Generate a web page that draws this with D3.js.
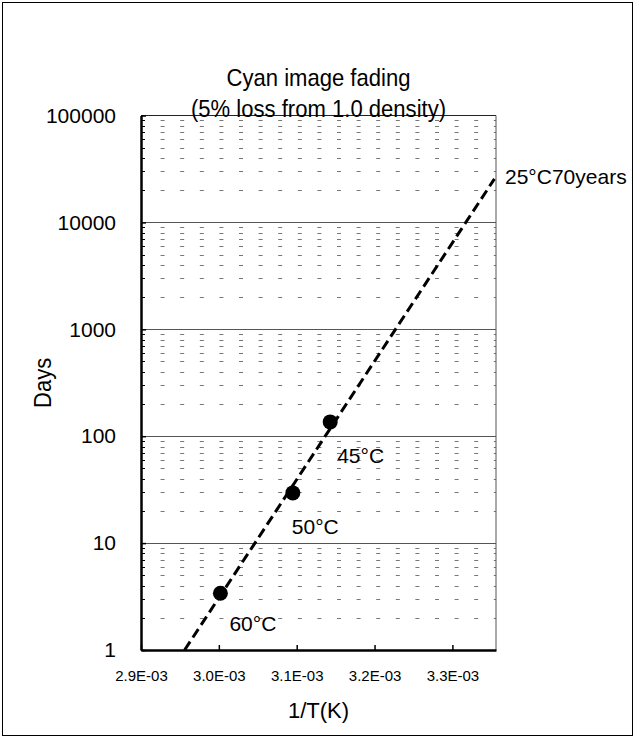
<!DOCTYPE html>
<html>
<head>
<meta charset="utf-8">
<script src="https://cdn.jsdelivr.net/npm/d3@7"></script>
<style>
  html, body { margin: 0; padding: 0; background: #fff; }
  svg { display: block; font-family: "Liberation Sans", Arial, sans-serif; }
</style>
</head>
<body>
<svg id="chart" width="640" height="738"></svg>
<script>
// ---- data ----
const pointLabels = ["45°C", "50°C", "60°C"];
const pointX = [3.143e-3, 3.095e-3, 3.002e-3];   // 1/T (K)
const pointY = [136, 29.5, 3.4];                 // days
const fitX = [2.956e-3, 3.354e-3];
const fitY = [1, 25550];
const fitLabel = "25°C70years";
const xTicks = [2.9e-3, 3.0e-3, 3.1e-3, 3.2e-3, 3.3e-3];
const xTickLabels = ["2.9E-03", "3.0E-03", "3.1E-03", "3.2E-03", "3.3E-03"];
const yTicks = [1, 10, 100, 1000, 10000, 100000];
const yTickLabels = ["1", "10", "100", "1000", "10000", "100000"];
const titleLines = ["Cyan image fading", "(5% loss from 1.0 density)"];
const xTitle = "1/T(K)";
const yTitle = "Days";

// ---- layout ----
const L = 141, R = 496, T = 115.5, B = 650;
const labelDx = [7, -1, 9];
const labelDy = [41, 41, 38];
const svg = d3.select("#chart");

const x = d3.scaleLinear().domain([2.9e-3, 3.356e-3]).range([L, R]);
const y = d3.scaleLog().domain([1, 100000]).range([B, T]);

// outer frame
svg.append("rect").attr("x", 2.5).attr("y", 2.5).attr("width", 630).attr("height", 733)
  .attr("fill", "#fff").attr("stroke", "#000").attr("stroke-width", 1);

// minor gridlines (dashed)
const minor = [];
for (let d = 0; d < 5; d++) {
  for (let m = 2; m <= 9; m++) minor.push(m * Math.pow(10, d));
}
svg.append("g").selectAll("line").data(minor).join("line")
  .attr("x1", L).attr("x2", R)
  .attr("y1", d => Math.round(y(d)) + 0.5).attr("y2", d => Math.round(y(d)) + 0.5)
  .attr("stroke", "#777").attr("stroke-width", 1)
  .attr("stroke-dasharray", "4,15.6").attr("stroke-dashoffset", -19.6);

// minor ticks on left (inside)
svg.append("g").selectAll("line").data(minor).join("line")
  .attr("x1", L).attr("x2", L + 4)
  .attr("y1", d => Math.round(y(d)) + 0.5).attr("y2", d => Math.round(y(d)) + 0.5)
  .attr("stroke", "#000").attr("stroke-width", 1);

// major gridlines
svg.append("g").selectAll("line").data(yTicks.slice(1, 5)).join("line")
  .attr("x1", L).attr("x2", R)
  .attr("y1", d => Math.round(y(d)) + 0.5).attr("y2", d => Math.round(y(d)) + 0.5)
  .attr("stroke", "#555").attr("stroke-width", 1);

// top and right border
svg.append("line").attr("x1", L).attr("x2", R).attr("y1", T).attr("y2", T)
  .attr("stroke", "#222").attr("stroke-width", 1);
svg.append("line").attr("x1", R).attr("x2", R).attr("y1", T).attr("y2", B)
  .attr("stroke", "#555").attr("stroke-width", 1);

// axes
const yAxis = d3.axisLeft(y).tickValues(yTicks).tickFormat((d, i) => yTickLabels[i])
  .tickSizeInner(-5).tickSizeOuter(0).tickPadding(25);
const gy = svg.append("g").attr("transform", `translate(${L},0)`).call(yAxis);
gy.select(".domain").attr("stroke", "#000").attr("stroke-width", 2.5);
gy.selectAll(".tick line").attr("stroke", "#000").attr("stroke-width", 1.5);
gy.selectAll(".tick text").attr("font-size", 21).attr("fill", "#000")
  .attr("font-family", "Liberation Sans, Arial, sans-serif");

const xAxis = d3.axisBottom(x).tickValues(xTicks).tickFormat((d, i) => xTickLabels[i])
  .tickSizeInner(-5).tickSizeOuter(0).tickPadding(20);
const gx = svg.append("g").attr("transform", `translate(0,${B})`).call(xAxis);
gx.select(".domain").attr("stroke", "#000").attr("stroke-width", 2.5);
gx.selectAll(".tick line").attr("stroke", "#000").attr("stroke-width", 1.5);
gx.selectAll(".tick text").attr("font-size", 15).attr("fill", "#000")
  .attr("font-family", "Liberation Sans, Arial, sans-serif");

// fit line
const line = d3.line().x(d => x(d[0])).y(d => y(d[1]));
svg.append("path").datum(fitX.map((v, i) => [v, fitY[i]]))
  .attr("d", line).attr("fill", "none").attr("stroke", "#000")
  .attr("stroke-width", 3).attr("stroke-dasharray", "10,5");

// points
const pts = pointX.map((v, i) => ({ x: v, y: pointY[i], label: pointLabels[i], i }));
svg.append("g").selectAll("circle").data(pts).join("circle")
  .attr("cx", d => x(d.x)).attr("cy", d => y(d.y)).attr("r", 7.5).attr("fill", "#000");

// point labels
svg.append("g").selectAll("text").data(pts).join("text")
  .attr("x", d => x(d.x) + labelDx[d.i]).attr("y", d => y(d.y) + labelDy[d.i])
  .attr("font-size", 21).attr("fill", "#000").text(d => d.label);

// fit label
svg.append("text").attr("x", R + 9).attr("y", y(fitY[1]) + 5)
  .attr("font-size", 21).attr("fill", "#000").text(fitLabel);

// titles (slightly condensed, as in the reference)
const cx = (L + R) / 2;
svg.append("g").attr("transform", `translate(${cx},0) scale(0.92,1)`)
  .append("text").attr("text-anchor", "middle").attr("font-size", 24)
  .selectAll("tspan").data(titleLines).join("tspan")
  .attr("x", 0).attr("y", (d, i) => 86 + i * 31).text(d => d);

svg.append("text").attr("x", cx).attr("y", 718).attr("text-anchor", "middle")
  .attr("font-size", 22).text(xTitle);

svg.append("text").attr("transform", `translate(51,${(T + B) / 2}) rotate(-90) scale(0.92,1)`)
  .attr("text-anchor", "middle").attr("font-size", 24).text(yTitle);
</script>
</body>
</html>
